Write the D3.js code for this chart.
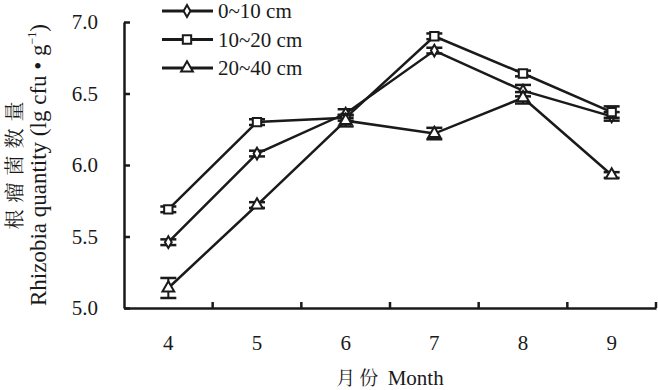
<!DOCTYPE html>
<html><head><meta charset="utf-8">
<script src="https://cdn.jsdelivr.net/npm/d3@7"></script>
<style>body{margin:0;background:#fff}svg{display:block}</style>
</head><body>
<svg id="c" width="658" height="390"></svg>
<script>
const months = ["4","5","6","7","8","9"];
const seriesNames = ["0~10 cm","10~20 cm","20~40 cm"];
const symbols = ["diamond","square","triangle"];
const v0_10 = [5.46, 6.08, 6.36, 6.80, 6.52, 6.34];
const e0_10 = [0.02, 0.02, 0.03, 0.02, 0.04, 0.03];
const v10_20 = [5.69, 6.30, 6.33, 6.90, 6.64, 6.37];
const e10_20 = [0.02, 0.02, 0.02, 0.02, 0.02, 0.04];
const v20_40 = [5.14, 5.72, 6.31, 6.22, 6.47, 5.93];
const e20_40 = [0.07, 0.02, 0.04, 0.04, 0.04, 0.02];
const yTicks = [5.0, 5.5, 6.0, 6.5, 7.0];

const values = [v0_10, v10_20, v20_40];
const errors = [e0_10, e10_20, e20_40];

const SERIF = "Liberation Serif";
const CJK = "Noto Serif CJK SC";
const INK = "#1a1a1a";

const svg = d3.select("#c");
const L = 124, R = 656, T = 22, B = 308;
const x = d3.scaleBand().domain(months).range([L, R]).padding(0);
const y = d3.scaleLinear().domain([5.0, 7.0]).range([B, T]);

// axes
const gy = svg.append("g").attr("transform", `translate(${L},0)`)
  .call(d3.axisLeft(y).tickValues(yTicks).tickSizeInner(-6).tickSizeOuter(0).tickPadding(26).tickFormat(d3.format(".1f")));
gy.attr("font-family", SERIF);
gy.select(".domain").attr("stroke", INK).attr("stroke-width", 2.5);
gy.selectAll(".tick line").attr("stroke", INK).attr("stroke-width", 2.5);
gy.selectAll("text").attr("font-family", SERIF).attr("font-size", 21).attr("fill", INK);

const gx = svg.append("g").attr("transform", `translate(0,${B})`)
  .call(d3.axisBottom(x).tickSize(0).tickPadding(24));
gx.attr("font-family", SERIF);
gx.select(".domain").attr("stroke", INK).attr("stroke-width", 2.5);
gx.selectAll("text").attr("font-family", SERIF).attr("font-size", 21).attr("fill", INK).attr("dy", "0.85em");
gx.selectAll(".bt").data(months).enter().append("line")
  .attr("x1", d => x(d) + x.bandwidth()).attr("x2", d => x(d) + x.bandwidth())
  .attr("y1", 0).attr("y2", -6).attr("stroke", INK).attr("stroke-width", 2.5);

// x title
const xt = svg.append("text").attr("x", 390).attr("y", 385).attr("text-anchor", "middle")
  .attr("font-family", SERIF).attr("font-size", 21).attr("fill", INK);
xt.append("tspan").attr("font-family", CJK).attr("font-size", 19).attr("letter-spacing", 4).text("月份");
xt.append("tspan").text(" Month");

// y title
const yl = svg.append("g").attr("transform", "translate(0,165) rotate(-90)");
yl.append("text").attr("x", 3).attr("y", 22).attr("text-anchor", "middle")
  .attr("font-family", CJK).attr("font-size", 20).attr("fill", INK)
  .attr("letter-spacing", 7).text("根瘤菌数量");
const t2 = yl.append("text").attr("x", 0).attr("y", 46).attr("text-anchor", "middle")
  .attr("font-family", SERIF).attr("font-size", 23).attr("fill", INK);
t2.append("tspan").text("Rhizobia quantity (lg cfu • g");
t2.append("tspan").attr("font-size", 12).attr("dy", -10).text("−1");
t2.append("tspan").attr("dy", 10).text(")");

const cx = d => x(d) + x.bandwidth() / 2;
const line = d3.line().x(d => cx(d.m)).y(d => y(d.v));
const symType = {diamond: d3.symbolDiamond, square: d3.symbolSquare, triangle: d3.symbolTriangle};
const symSize = {diamond: 40, square: 70, triangle: 60};

values.forEach((vals, si) => {
  const data = vals.map((v, i) => ({m: months[i], v, e: errors[si][i]}));
  const g = svg.append("g");
  g.append("path").datum(data).attr("d", line).attr("fill", "none")
    .attr("stroke", INK).attr("stroke-width", 2.5);
  data.forEach(d => {
    const xc = cx(d.m);
    g.append("line").attr("x1", xc).attr("x2", xc).attr("y1", y(d.v + d.e)).attr("y2", y(d.v - d.e))
      .attr("stroke", INK).attr("stroke-width", 2);
    [d.v + d.e, d.v - d.e].forEach(yy => g.append("line")
      .attr("x1", xc - 8).attr("x2", xc + 8).attr("y1", y(yy)).attr("y2", y(yy))
      .attr("stroke", INK).attr("stroke-width", 2.5));
  });
  g.selectAll("path.sym").data(data).enter().append("path").attr("class", "sym")
    .attr("transform", d => `translate(${cx(d.m)},${y(d.v)})`)
    .attr("d", d3.symbol().type(symType[symbols[si]]).size(symSize[symbols[si]]))
    .attr("fill", "#fff").attr("stroke", INK).attr("stroke-width", 2);
});

// legend
const lg = svg.append("g");
seriesNames.forEach((n, i) => {
  const yy = 11 + i * 28.5;
  lg.append("line").attr("x1", 162).attr("x2", 213).attr("y1", yy).attr("y2", yy)
    .attr("stroke", INK).attr("stroke-width", 3);
  lg.append("path").attr("transform", `translate(187,${yy})`)
    .attr("d", d3.symbol().type(symType[symbols[i]]).size(symSize[symbols[i]]))
    .attr("fill", "#fff").attr("stroke", INK).attr("stroke-width", 2);
  lg.append("text").attr("x", 218).attr("y", yy + 7)
    .attr("font-family", SERIF).attr("font-size", 21).attr("fill", INK).text(n);
});
</script>
</body></html>
